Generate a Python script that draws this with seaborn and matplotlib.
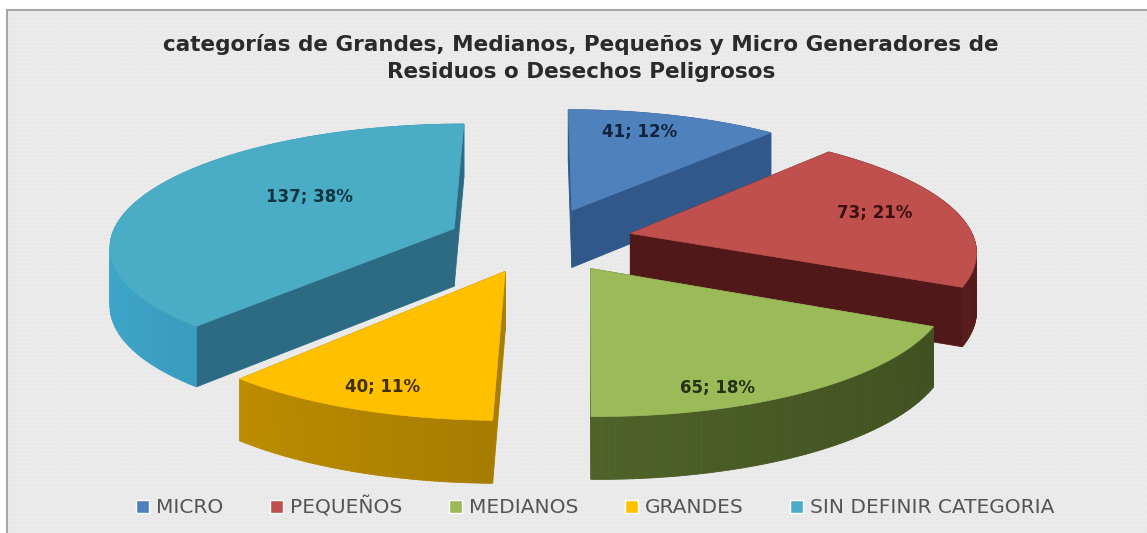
import numpy as np
import seaborn as sns
import matplotlib.pyplot as plt
from matplotlib.colors import to_rgb
from matplotlib.patches import Patch, Polygon, Rectangle

categories = ["MICRO", "PEQUEÑOS", "MEDIANOS", "GRANDES", "SIN DEFINIR CATEGORIA"]
counts = [41, 73, 65, 40, 137]
percents = [12, 21, 18, 11, 38]
title = "categorías de Grandes, Medianos, Pequeños y Micro Generadores de\nResiduos o Desechos Peligrosos"

top_colors = ["#4f81bd", "#c0504d", "#9bbb59", "#ffc000", "#4bacc6"]
arc_colors = ["#34609a", "#6a2222", "#4f6228", "#a67c00", "#338aa8"]
cut_colors = ["#30588a", "#511819", "#4f6228", "#a87e00", "#2d6b85"]

sns.set_theme(style="white")
plt.rcParams["font.family"] = ["DejaVu Sans"]
plt.rcParams["hatch.linewidth"] = 0.4

fig, ax = plt.subplots(figsize=(11.47, 5.33), dpi=100)
ax.set_position([0, 0, 1, 1])

wedges, _ = ax.pie(counts, explode=[0.27] * 5, startangle=90, counterclock=False)
ax.set_aspect("auto")
ax.set_xlim(0, 1147)
ax.set_ylim(533, 0)
ax.set_xticks([])
ax.set_yticks([])


def project(x, y):
    # pseudo perspective, far side is smaller
    s = 1 / (1 + 0.129 * y)
    return 540 + 344 * x * s, 240 - 120.8 * y * s


# chart background
ax.add_patch(Rectangle((7, 10), 1160, 540, facecolor="#e9e9e9", edgecolor="#a6a6a6",
                       lw=1.5, zorder=0))
ax.add_patch(Rectangle((8, 11), 1160, 540, facecolor="none", edgecolor="#f4f4f4",
                       lw=0, hatch="....", zorder=0.5))

order = [0, 4, 1, 3, 2]
for z, i in enumerate(order):
    w = wedges[i]
    w.set_visible(False)
    t = np.radians(np.linspace(w.theta1, w.theta2, 80))
    cx, cy = w.center
    xs = np.r_[cx, cx + w.r * np.cos(t), cx]
    ys = np.r_[cy, cy + w.r * np.sin(t), cy]
    px, py = project(xs, ys)
    h = 58 - 4 * ys
    quads = []
    for k in range(len(px) - 1):
        is_arc = 0 < k < len(px) - 2
        col = np.array(to_rgb(arc_colors[i] if is_arc else cut_colors[i]))
        if is_arc:
            # a little darker towards the right side
            col = np.clip(col * (1 - 0.2 * np.cos(t[k])), 0, 1)
        quad = [(px[k], py[k]), (px[k + 1], py[k + 1]),
                (px[k + 1], py[k + 1] + h[k + 1]), (px[k], py[k] + h[k])]
        quads.append((py[k] + py[k + 1], quad, col))
    for _, quad, col in sorted(quads, key=lambda q: q[0]):
        ax.add_patch(Polygon(quad, closed=True, facecolor=col, edgecolor=col, lw=0.6, zorder=2 + z))
    ax.add_patch(Polygon(np.c_[px, py], closed=True, facecolor=top_colors[i],
                         edgecolor=top_colors[i], lw=0.5, zorder=2 + z))

label_xy = [(640, 132), (875, 213), (718, 388), (383, 387), (309, 197)]
label_colors = ["#10233c", "#3c1010", "#263014", "#3f3000", "#0e3540"]
for n, p, (x, y), c in zip(counts, percents, label_xy, label_colors):
    ax.text(x, y, f"{n}; {p}%", ha="center", va="center", fontsize=12,
            fontweight="bold", color=c, zorder=20)

ax.text(581, 58, title, ha="center", va="center", fontsize=15.5, fontweight="bold",
        color="#2a2a2a", linespacing=1.4, zorder=20)

handles = [Patch(facecolor=c, label=l) for c, l in zip(top_colors, categories)]
fig.legend(handles=handles, loc="center", bbox_to_anchor=(0.519, 0.049), ncol=5, frameon=False,
           fontsize=14.5, labelcolor="#555555", handlelength=0.65, handleheight=0.65,
           handletextpad=0.35, columnspacing=2.3)

fig.savefig("out.png", dpi=100)
